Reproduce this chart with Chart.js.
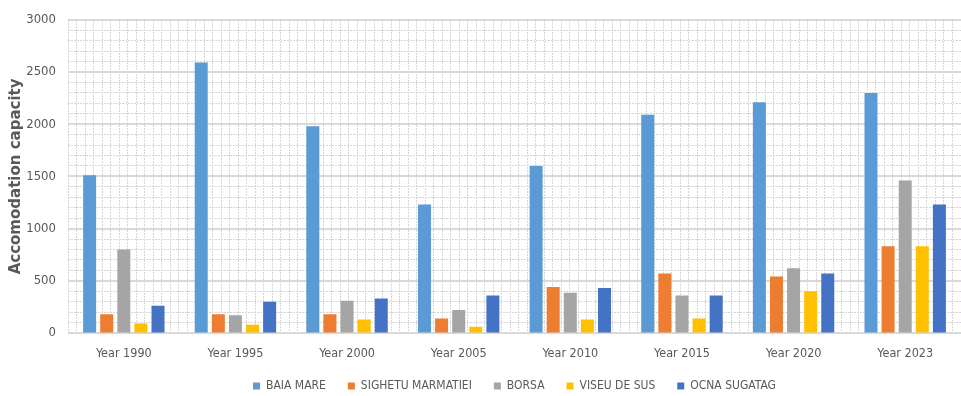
<!DOCTYPE html>
<html>
<head>
<meta charset="utf-8">
<script src="https://cdn.jsdelivr.net/npm/chart.js@4.4.1/dist/chart.umd.min.js"></script>
<style>
  html, body { margin: 0; padding: 0; background: #ffffff; }
  #wrap { width: 961px; height: 396px; position: relative; }
</style>
</head>
<body>
<div id="wrap"><canvas id="c"></canvas></div>
<script>
const categories = ['Year 1990', 'Year 1995', 'Year 2000', 'Year 2005', 'Year 2010', 'Year 2015', 'Year 2020', 'Year 2023'];
const seriesNames = ['BAIA MARE', 'SIGHETU MARMATIEI', 'BORSA', 'VISEU DE SUS', 'OCNA SUGATAG'];
const baiaMare = [1510, 2590, 1980, 1230, 1600, 2090, 2210, 2300];
const sighetuMarmatiei = [180, 180, 180, 140, 440, 570, 540, 830];
const borsa = [800, 170, 310, 220, 385, 360, 620, 1460];
const viseuDeSus = [90, 80, 130, 60, 130, 140, 400, 830];
const ocnaSugatag = [260, 300, 330, 360, 430, 360, 570, 1230];
const seriesColors = ['#5B9BD5', '#ED7D31', '#A5A5A5', '#FFC000', '#4472C4'];
const yTicks = [0, 500, 1000, 1500, 2000, 2500, 3000];
const yTitle = 'Accomodation capacity';

const values = [baiaMare, sighetuMarmatiei, borsa, viseuDeSus, ocnaSugatag];
const narrow = "'Liberation Sans Narrow', 'DejaVu Sans Condensed', 'Arial Narrow', Roboto, sans-serif";

new Chart(document.getElementById('c'), {
  type: 'bar',
  data: {
    labels: categories,
    datasets: seriesNames.map((n, i) => ({
      label: n,
      data: values[i],
      backgroundColor: seriesColors[i],
      borderWidth: 0,
      categoryPercentage: 0.766,
      barPercentage: 0.76
    }))
  },
  options: {
    responsive: true,
    maintainAspectRatio: false,
    animation: false,
    layout: { padding: { top: 19, right: 0, left: 0, bottom: -6 } },
    plugins: {
      tooltip: { enabled: false },
      legend: {
        position: 'bottom',
        fullSize: false,
        labels: {
          boxWidth: 7, boxHeight: 7, padding: 22,
          color: '#595959',
          font: { family: narrow, size: 12 }
        }
      }
    },
    scales: {
      x: {
        type: 'category',
        position: 'bottom',
        grid: { display: false, drawTicks: false },
        border: { display: false },
        ticks: { color: '#595959', padding: 13, font: { family: narrow, size: 12.5 }, maxRotation: 0 },
        afterFit: s => { s.height = 25; }
      },
      xg: {
        type: 'linear',
        position: 'top',
        min: 0, max: 104,
        ticks: { display: false, stepSize: 1 },
        grid: { color: '#d6d6d6', lineWidth: 1, drawTicks: false },
        border: { display: false, dash: [2, 1] },
        afterFit: s => { s.height = 0; }
      },
      yg: {
        type: 'linear',
        position: 'right',
        min: 0, max: 3000,
        ticks: { display: false, stepSize: 100 },
        grid: { color: '#d6d6d6', lineWidth: 1, drawTicks: false },
        border: { display: false, dash: [2, 1] },
        afterFit: s => { s.width = 0; }
      },
      y: {
        type: 'linear',
        position: 'left',
        min: 0, max: 3000,
        afterBuildTicks: s => { s.ticks = yTicks.map(v => ({ value: v })); },
        ticks: { color: '#595959', padding: 12, font: { family: narrow, size: 13 }, callback: v => String(v) },
        grid: { color: '#d9d9d9', lineWidth: 2, drawTicks: false },
        border: { display: false },
        title: {
          display: true, text: yTitle, color: '#595959',
          font: { family: "'DejaVu Sans', sans-serif", size: 15, weight: 'bold', lineHeight: 1.2 },
          padding: { top: 7, bottom: 0 }
        },
        afterFit: s => { s.width = 68; }
      }
    }
  }
});
</script>
</body>
</html>
